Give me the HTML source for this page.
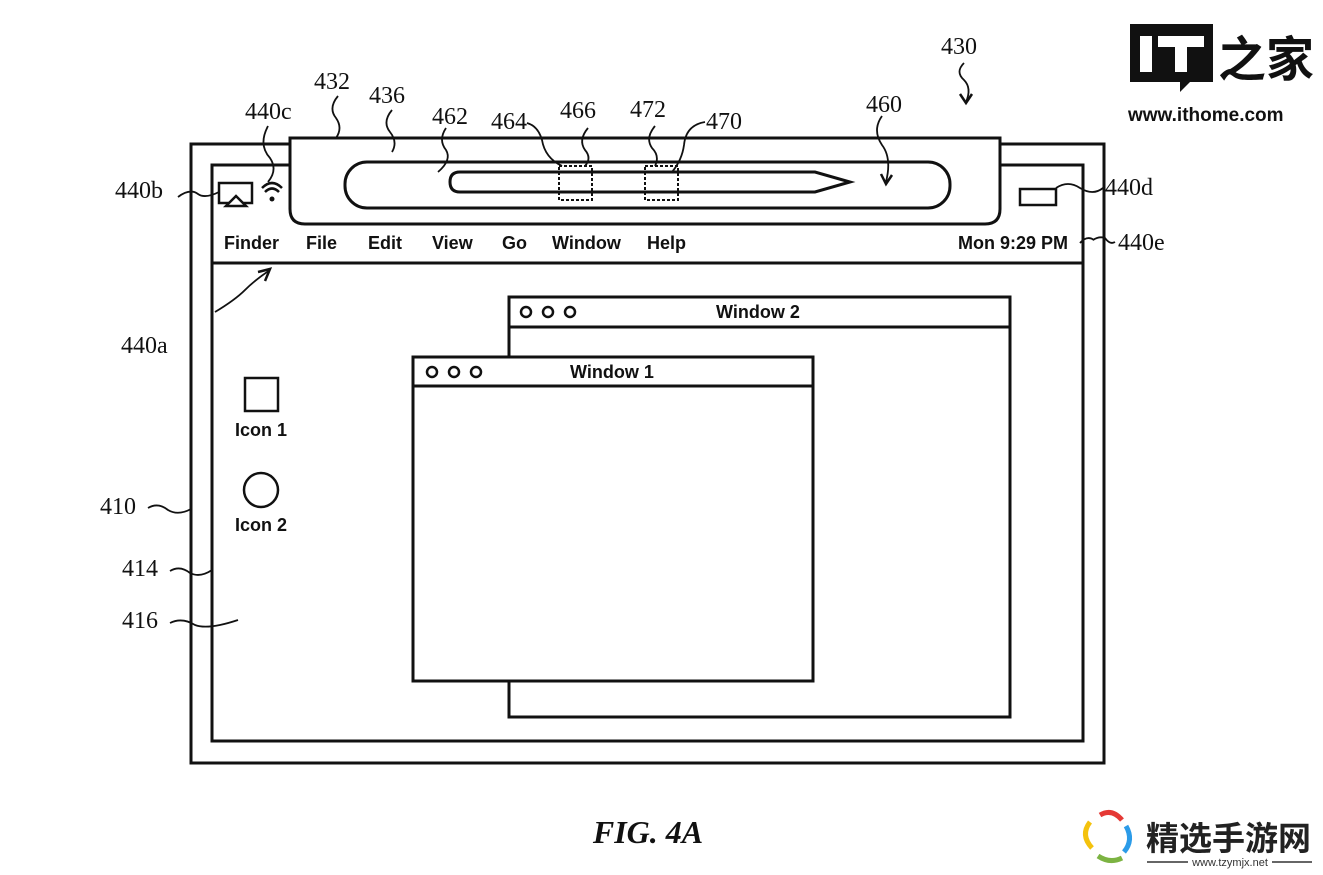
<!DOCTYPE html>
<html><head><meta charset="utf-8"><style>
html,body{margin:0;padding:0;background:#fff;}
svg{display:block}
.l{font-family:"Liberation Serif",serif;font-size:24px;fill:#111}
.m{font-family:"Liberation Sans",sans-serif;font-size:18px;font-weight:bold;fill:#111}
</style></head><body>
<svg width="1323" height="875" viewBox="0 0 1323 875" xmlns="http://www.w3.org/2000/svg">
<g fill="none" stroke="#111" stroke-width="3">
<rect x="191" y="144" width="913" height="619"/>
<rect x="212" y="165" width="871" height="576"/>
<line x1="212" y1="263" x2="1083" y2="263"/>
<path d="M290 138 H1000 V209 Q1000 224 985 224 H305 Q290 224 290 209 Z" fill="#fff"/>
<rect x="345" y="162" width="605" height="46" rx="22"/>
<path d="M460 172 H815 L850 182 L815 192 H460 Q450 192 450 182 Q450 172 460 172 Z"/>
<rect x="509" y="297" width="501" height="420" fill="#fff"/>
<line x1="509" y1="327" x2="1010" y2="327"/>
<rect x="413" y="357" width="400" height="324" fill="#fff"/>
<line x1="413" y1="386" x2="813" y2="386"/>
<circle cx="526" cy="312" r="5" stroke-width="2.5"/><circle cx="548" cy="312" r="5" stroke-width="2.5"/><circle cx="570" cy="312" r="5" stroke-width="2.5"/>
<circle cx="432" cy="372" r="5" stroke-width="2.5"/><circle cx="454" cy="372" r="5" stroke-width="2.5"/><circle cx="476" cy="372" r="5" stroke-width="2.5"/>
<rect x="245" y="378" width="33" height="33" stroke-width="2.5"/>
<circle cx="261" cy="490" r="17" stroke-width="2.5"/>
<rect x="219" y="183" width="33" height="20" stroke-width="2.5"/>
<rect x="1020" y="189" width="36" height="16" stroke-width="2.5"/>
</g>
<g fill="none" stroke="#111" stroke-width="2" stroke-dasharray="3,2">
<rect x="559" y="166" width="33" height="34"/>
<rect x="645" y="166" width="33" height="34"/>
</g>
<path d="M226 206 L236 196 L246 206 Z" fill="#fff" stroke="#111" stroke-width="2.5"/>
<g fill="none" stroke="#111" stroke-width="2.5">
<path d="M262 188 Q272 178 282 188"/><path d="M265 192 Q272 185 279 192"/>
</g>
<circle cx="272" cy="199" r="2.5" fill="#111"/>
<g fill="none" stroke="#111" stroke-width="1.8">
<path d="M178 197 Q190 188 198 194 Q205 199 219 192"/>
<path d="M268 126 Q258 145 270 158 Q278 170 268 182"/>
<path d="M338 96 Q328 108 336 118 Q343 128 336 138"/>
<path d="M392 110 Q382 122 390 132 Q398 142 392 152"/>
<path d="M446 128 Q438 140 446 150 Q452 160 438 172"/>
<path d="M527 123 Q538 126 542 140 Q545 158 562 166"/>
<path d="M588 128 Q578 140 585 150 Q592 158 585 166"/>
<path d="M655 126 Q645 138 652 148 Q660 156 655 166"/>
<path d="M705 122 Q686 125 684 145 Q682 160 672 172"/>
<path d="M882 116 Q872 130 882 145 Q892 158 886 182"/>
<path d="M881 174 L886 184 L892 175" stroke-width="2.5"/>
<path d="M964 63 Q955 72 964 80 Q972 88 966 102"/>
<path d="M960 94 L966 103 L972 94" stroke-width="2.5"/>
<path d="M1056 188 Q1068 180 1080 188 Q1093 196 1103 188"/>
<path d="M1093 240 Q1099 236 1105 238 Q1110 245 1115 242"/>
<path d="M1080 243 Q1087 235 1094 240"/>
<path d="M215 312 Q235 300 245 290 Q255 280 270 270"/>
<path d="M258 272 L270 269 L265 281" stroke-width="2.5"/>
<path d="M148 508 Q158 502 168 510 Q178 516 191 509"/>
<path d="M170 571 Q180 565 190 573 Q200 578 212 570"/>
<path d="M170 623 Q182 617 195 625 Q208 630 238 620"/>
</g>
<g class="l">
<text x="314" y="89">432</text><text x="369" y="103">436</text>
<text x="245" y="119">440c</text><text x="432" y="124">462</text>
<text x="491" y="129">464</text><text x="560" y="118">466</text>
<text x="630" y="117">472</text><text x="706" y="129">470</text>
<text x="866" y="112">460</text><text x="941" y="54">430</text>
<text x="115" y="198">440b</text><text x="1105" y="195">440d</text>
<text x="1118" y="250">440e</text><text x="121" y="353">440a</text>
<text x="100" y="514">410</text><text x="122" y="576">414</text><text x="122" y="628">416</text>
</g>
<g class="m">
<text x="224" y="249">Finder</text><text x="306" y="249">File</text><text x="368" y="249">Edit</text>
<text x="432" y="249">View</text><text x="502" y="249">Go</text><text x="552" y="249">Window</text>
<text x="647" y="249">Help</text><text x="958" y="249">Mon 9:29 PM</text>
<text x="716" y="318">Window 2</text><text x="570" y="378">Window 1</text>
<text x="235" y="436">Icon 1</text><text x="235" y="531">Icon 2</text>
</g>
<text x="648" y="843" text-anchor="middle" font-family="Liberation Serif,serif" font-size="32" font-style="italic" font-weight="bold" fill="#111">FIG. 4A</text>
<rect x="1130" y="24" width="83" height="58" fill="#111"/>
<path d="M1180 82 L1190 82 L1180 92 Z" fill="#111"/>
<rect x="1140" y="36" width="12" height="36" fill="#fff"/>
<rect x="1158" y="36" width="46" height="11" fill="#fff"/>
<rect x="1175" y="36" width="12" height="36" fill="#fff"/>
<text x="1218" y="76" font-family="Liberation Sans,Noto Sans CJK SC,sans-serif" font-size="48" font-weight="bold" fill="#111">之家</text>
<text x="1128" y="121" font-family="Liberation Sans,sans-serif" font-size="19" font-weight="bold" fill="#111">www.ithome.com</text>
<g fill="none" stroke-width="5">
<path d="M1090 822 Q1080 835 1092 848" stroke="#f4c20d"/>
<path d="M1100 815 Q1112 808 1122 820" stroke="#e53935"/>
<path d="M1126 826 Q1134 840 1124 852" stroke="#2b9be8"/>
<path d="M1098 856 Q1110 864 1122 858" stroke="#7cb342"/>
</g>
<text x="1146" y="850" font-family="Noto Sans CJK SC,sans-serif" font-size="33" font-weight="bold" fill="#222">精选手游网</text>
<line x1="1147" y1="862" x2="1188" y2="862" stroke="#333" stroke-width="1.5"/>
<line x1="1272" y1="862" x2="1312" y2="862" stroke="#333" stroke-width="1.5"/>
<text x="1230" y="866" text-anchor="middle" font-family="Liberation Sans,sans-serif" font-size="11" fill="#333">www.tzymjx.net</text>
</svg>
</body></html>
